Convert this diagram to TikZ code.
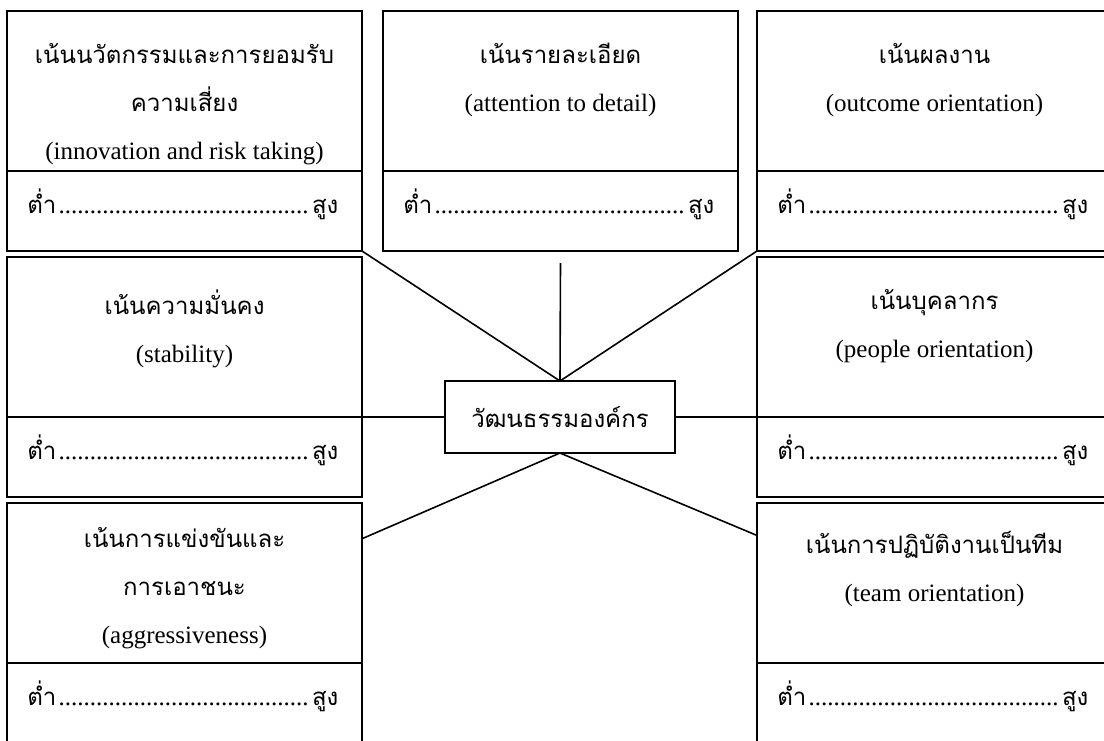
\documentclass[tikz,border=0pt]{standalone}
\usepackage{fontspec}
\setmainfont{Liberation Serif}
\newfontfamily\thaifont[Script=Thai, Scale=0.96]{Loma}
\usetikzlibrary{positioning}

\newcommand\thaitext[1]{{\thaifont #1}}
% low ........ high scale
\newcommand\lowhigh{\hbox to 155.5pt{\thaitext{ต่ำ}\leaders\hbox{.}\hfill\thaitext{สูง}}}

\begin{document}
\begin{tikzpicture}[x=0.5pt, y=-0.5pt,
    factorbox/.style={draw, line width=0.9pt, minimum width=177.5pt, inner sep=0pt, outer sep=0pt},
    toppart/.style={factorbox, minimum height=80pt},
    scalepart/.style={factorbox, minimum height=40pt},
    heading/.style={align=center, inner sep=0pt, font=\fontsize{12.5}{24}\selectfont},
    scaleline/.style={anchor=base west, inner sep=0pt, font=\fontsize{12.5}{14}\selectfont},
    link/.style={line width=0.8pt}]

  \clip (0,0) rectangle (1104,740);

  % top row
  \node[toppart] (innov) at (184.5,91) {};
  \node[scalepart, below=0pt of innov] (innov-s) {};
  \node[toppart] (detail) at (560.5,91) {};
  \node[scalepart, below=0pt of detail] (detail-s) {};
  \node[toppart] (outcome) at (934.5,91) {};
  \node[scalepart, below=0pt of outcome] (outcome-s) {};

  % middle row
  \node[toppart] (stable) at (184.5,337) {};
  \node[scalepart, below=0pt of stable] (stable-s) {};
  \node[toppart] (people) at (934.5,337) {};
  \node[scalepart, below=0pt of people] (people-s) {};

  % bottom row
  \node[toppart] (aggr) at (184.5,583) {};
  \node[scalepart, below=0pt of aggr] (aggr-s) {};
  \node[toppart] (team) at (934.5,583) {};
  \node[scalepart, below=0pt of team] (team-s) {};

  % headings
  \node[heading, below=16pt of innov.north] (innov-t)
    {\thaitext{เน้นนวัตกรรมและการยอมรับ}\\ \thaitext{ความเสี่ยง}\\ (innovation and risk taking)};
  \node[heading, below=16pt of detail.north] (detail-t)
    {\thaitext{เน้นรายละเอียด}\\ (attention to detail)};
  \node[heading, below=16pt of outcome.north] (outcome-t)
    {\thaitext{เน้นผลงาน}\\ (outcome orientation)};
  \node[heading, below=16pt of stable.north] (stable-t)
    {\thaitext{เน้นความมั่นคง}\\ (stability)};
  \node[heading, below=16pt of people.north] (people-t)
    {\thaitext{เน้นบุคลากร}\\ (people orientation)};
  \node[heading, below=12pt of aggr.north] (aggr-t)
    {\thaitext{เน้นการแข่งขันและ}\\ \thaitext{การเอาชนะ}\\ (aggressiveness)};
  \node[heading, below=14pt of team.north] (team-t)
    {\thaitext{เน้นการปฏิบัติงานเป็นทีม}\\ (team orientation)};

  % scales
  \foreach \f in {innov, detail, outcome, stable, people, aggr, team}
    \node[scaleline] (\f-r) at ([xshift=10pt, yshift=-21pt]\f-s.north west) {\lowhigh};

  % centre
  \node[factorbox, minimum width=115pt, minimum height=36pt, font=\fontsize{12.5}{14}\selectfont] (culture) at (560,417)
    {\thaitext{วัฒนธรรมองค์กร}};

  % connectors
  \draw[link] (innov-s.south east) -- (culture.north);
  \draw[link] ([yshift=-6pt]detail-s.south) -- (culture.north);
  \draw[link] (outcome-s.south west) -- (culture.north);
  \draw[link] (stable-s.north east) -- (culture.west);
  \draw[link] (culture.east) -- (people-s.north west);
  \draw[link] (culture.south) -- (aggr.14.5);
  \draw[link] (culture.south) -- (team.165.5);
\end{tikzpicture}
\end{document}
